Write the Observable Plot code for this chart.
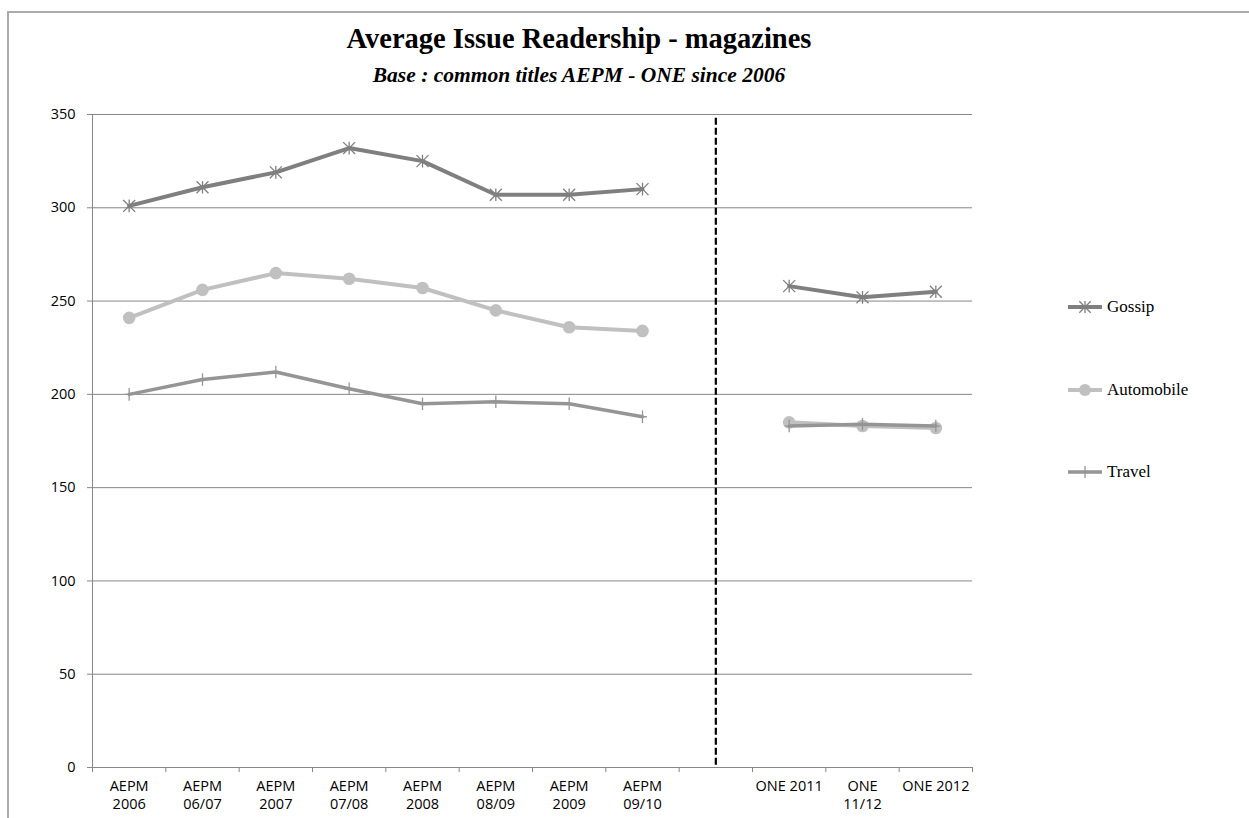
<!DOCTYPE html>
<html>
<head>
<meta charset="utf-8">
<script src="https://cdn.jsdelivr.net/npm/d3@7"></script>
<script src="https://cdn.jsdelivr.net/npm/@observablehq/plot@0.6"></script>
<style>
  body { margin: 0; background: #fff; }
  #wrap { position: relative; width: 1249px; height: 818px; overflow: hidden; }
  #frame { position: absolute; left: 7px; top: 11px; width: 1400px; height: 1000px;
           border-left: 2px solid #ababab; border-top: 2px solid #ababab; }
  #chart { position: absolute; left: 0; top: 0; }
  #title { position: absolute; left: 0; width: 1158px; top: 25px; text-align: center;
           font-family: "Liberation Serif", serif; font-weight: bold; font-size: 28.5px; line-height: 28px; }
  #subtitle { position: absolute; left: 0; width: 1158px; top: 64px; text-align: center;
              font-family: "Liberation Serif", serif; font-weight: bold; font-style: italic;
              font-size: 21.5px; line-height: 22px; }
  .legend-item { position: absolute; left: 1066px; height: 24px; display: flex; align-items: center;
                 font-family: "Liberation Serif", serif; font-size: 17px; }
  .legend-item svg { margin-right: 3px; }
</style>
</head>
<body>
<div id="wrap">
  <div id="frame"></div>
  <div id="chart"></div>
  <div id="title">Average Issue Readership - magazines</div>
  <div id="subtitle">Base : common titles AEPM - ONE since 2006</div>
  <div id="legend"></div>
</div>
<script>
// Survey waves (the empty slot separates the AEPM and ONE studies)
const categories = [
  "AEPM\n2006", "AEPM\n06/07", "AEPM\n2007", "AEPM\n07/08", "AEPM\n2008",
  "AEPM\n08/09", "AEPM\n2009", "AEPM\n09/10", "", "ONE 2011", "ONE\n11/12", "ONE 2012"
];

// Average issue readership (thousands) per magazine category
const gossip     = [301, 311, 319, 332, 325, 307, 307, 310, null, 258, 252, 255];
const automobile = [241, 256, 265, 262, 257, 245, 236, 234, null, 185, 183, 182];
const travel     = [200, 208, 212, 203, 195, 196, 195, 188, null, 183, 184, 183];

const seriesNames = ["Gossip", "Automobile", "Travel"];
const yTicks = [0, 50, 100, 150, 200, 250, 300, 350];

// Marker shapes
const starSymbol = {
  draw(ctx, size) {
    const r = Math.sqrt(size / Math.PI);
    const d = r * 0.95;
    ctx.moveTo(0, -r); ctx.lineTo(0, r);
    ctx.moveTo(-d, -d); ctx.lineTo(d, d);
    ctx.moveTo(-d, d); ctx.lineTo(d, -d);
  }
};
const plusSymbol = {
  draw(ctx, size) {
    const r = Math.sqrt(size / Math.PI);
    ctx.moveTo(0, -r); ctx.lineTo(0, r);
    ctx.moveTo(-r * 0.7, 0); ctx.lineTo(r * 0.7, 0);
  }
};

const styles = {
  Gossip:     {color: "#7f7f7f", width: 4,   marker: "star"},
  Automobile: {color: "#c0c0c0", width: 4,   marker: "circle"},
  Travel:     {color: "#959595", width: 3.5, marker: "plus"}
};

const values = {Gossip: gossip, Automobile: automobile, Travel: travel};
const gapIndex = categories.indexOf("");

const rows = seriesNames.flatMap(name =>
  categories.map((c, i) => ({
    i, series: name, value: values[name][i],
    segment: i < gapIndex ? "AEPM" : "ONE"
  })).filter(d => d.value != null)
);

const gridColor = "#868686";
const tickFont = {fontSize: 14.5, fontFamily: "'Open Sans', sans-serif", fill: "black"};

function seriesMarks(name) {
  const data = rows.filter(d => d.series === name);
  const st = styles[name];
  const marks = [
    Plot.line(data, {x: "i", y: "value", z: "segment", stroke: st.color, strokeWidth: st.width, curve: "linear"})
  ];
  if (st.marker === "circle") {
    marks.push(Plot.dot(data, {x: "i", y: "value", r: 6.3, fill: st.color, stroke: "none"}));
  } else {
    marks.push(Plot.dot(data, {
      x: "i", y: "value", r: 6.3,
      symbol: st.marker === "star" ? starSymbol : plusSymbol,
      fill: "none", stroke: st.color, strokeWidth: 1.3
    }));
  }
  return marks;
}

const plot = Plot.plot({
  width: 1249,
  height: 818,
  marginLeft: 92,
  marginRight: 277,
  marginTop: 114,
  marginBottom: 51,
  style: {fontFamily: "'Open Sans', sans-serif", fontSize: "14.5px", color: "black", background: "transparent", overflow: "visible"},
  x: {domain: [-0.5, categories.length - 0.5]},
  y: {domain: [0, 350]},
  marks: [
    Plot.gridY(yTicks, {stroke: gridColor, strokeOpacity: 1, strokeWidth: 1}),
    Plot.ruleX([-0.5], {stroke: gridColor, strokeWidth: 1}),
    Plot.ruleY([0], {stroke: gridColor, strokeWidth: 1}),
    Plot.axisY(yTicks, {...tickFont, tickSize: 5, tickPadding: 12, stroke: gridColor, label: null, tickFormat: d => String(d)}),
    Plot.axisX(d3.range(categories.length + 1).map(i => i - 0.5), {tickSize: 5, stroke: gridColor, tickFormat: () => "", label: null}),
    Plot.axisX(d3.range(categories.length), {...tickFont, tickSize: 0, tickPadding: 11, lineHeight: 1.22, tickFormat: i => categories[i], label: null}),
    Plot.ruleX([gapIndex], {stroke: "black", strokeWidth: 2.2, strokeDasharray: "7,3", y1: 348, y2: 0}),
    ...seriesNames.flatMap(seriesMarks)
  ]
});
document.getElementById("chart").appendChild(plot);

// Legend
const legendY = {Gossip: 295, Automobile: 378, Travel: 460};
const legend = document.getElementById("legend");
for (const name of seriesNames) {
  const st = styles[name];
  const item = document.createElement("div");
  item.className = "legend-item";
  item.style.top = legendY[name] + "px";
  const svg = d3.create("svg").attr("width", 38).attr("height", 24);
  svg.append("line").attr("x1", 2).attr("x2", 36).attr("y1", 12).attr("y2", 12)
    .attr("stroke", st.color).attr("stroke-width", st.width);
  if (st.marker === "circle") {
    svg.append("circle").attr("cx", 19).attr("cy", 12).attr("r", 6).attr("fill", st.color);
  } else {
    const sym = st.marker === "star" ? starSymbol : plusSymbol;
    svg.append("path").attr("transform", "translate(19,12)")
      .attr("d", d3.symbol(sym, Math.PI * 36)())
      .attr("fill", "none").attr("stroke", st.color).attr("stroke-width", 1.3);
  }
  item.appendChild(svg.node());
  const label = document.createElement("span");
  label.textContent = name;
  item.appendChild(label);
  legend.appendChild(item);
}
</script>
</body>
</html>
